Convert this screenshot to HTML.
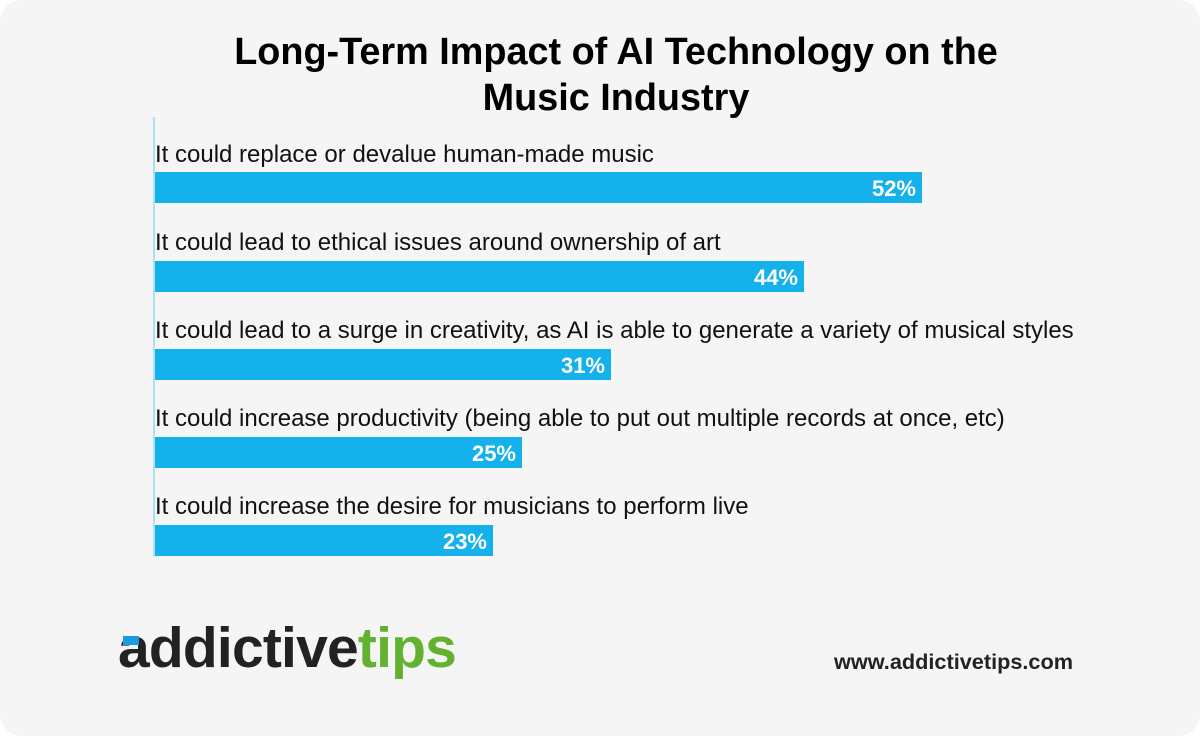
<!DOCTYPE html>
<html><head><style>
body{margin:0;width:1200px;height:736px;background:#fff;font-family:"Liberation Sans",Arial,sans-serif;overflow:hidden}
.card{position:absolute;left:0;top:0;width:1200px;height:736px;background:#f5f5f5;border-radius:22px}
.t{position:absolute;left:0;width:1232px;text-align:center;font-weight:bold;font-size:37.8px;color:#000;line-height:46px;top:29px}
.ax{position:absolute;left:153px;top:117px;width:2px;height:440px;background:#aee0f4}
.lbl{position:absolute;left:155px;font-size:24px;color:#111;white-space:nowrap}
.bar{position:absolute;left:155px;height:31px;background:#14b1ed;color:#fff;font-weight:bold;font-size:22px;text-align:right;box-sizing:border-box;padding-right:6px;line-height:33px}
.url{position:absolute;left:834px;top:649px;font-size:21.7px;font-weight:bold;color:#222}
.logo{position:absolute;left:118px;top:618px;font-size:57px;font-weight:bold;letter-spacing:-0.8px;color:#222;line-height:60px}
</style></head><body>
<div class="card"></div>
<div class="t">Long-Term Impact of AI Technology on the<br>Music Industry</div>
<div class="ax"></div>
<div class="lbl" style="top:141px">It could replace or devalue human-made music</div>
<div class="bar" style="top:172px;width:767px">52%</div>
<div class="lbl" style="top:229px">It could lead to ethical issues around ownership of art</div>
<div class="bar" style="top:261px;width:649px">44%</div>
<div class="lbl" style="top:317px">It could lead to a surge in creativity, as AI is able to generate a variety of musical styles</div>
<div class="bar" style="top:349px;width:456px">31%</div>
<div class="lbl" style="top:405px">It could increase productivity (being able to put out multiple records at once, etc)</div>
<div class="bar" style="top:437px;width:367px">25%</div>
<div class="lbl" style="top:493px">It could increase the desire for musicians to perform live</div>
<div class="bar" style="top:525px;width:338px">23%</div>
<div class="logo">addictive<span style="color:#62b22f">tips</span></div>
<div style="position:absolute;left:123px;top:636px;width:16px;height:9px;background:#1a9be8"></div>
<div class="url">www.addictivetips.com</div>
</body></html>
